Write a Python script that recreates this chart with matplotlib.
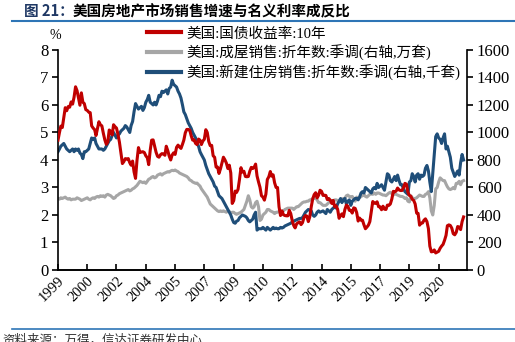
import pandas as pd
import matplotlib.pyplot as plt
from matplotlib.lines import Line2D

# monthly observations, Jan 1999 - Feb 2022
months = pd.date_range("1999-01-01", "2022-02-01", freq="MS")

# US 10Y treasury yield, %
yield_10y = [
    4.72, 5.00, 5.23, 5.18, 5.54, 5.90, 5.79, 5.94, 5.92, 6.11, 6.03, 6.28,
    6.66, 6.52, 6.26, 5.99, 6.44, 6.10, 6.05, 5.83, 5.80, 5.74, 5.72, 5.24,
    5.16, 5.10, 4.89, 5.14, 5.39, 5.28, 5.24, 4.97, 4.73, 4.57, 4.65, 5.09,
    5.04, 4.91, 5.28, 5.21, 5.16, 4.93, 4.65, 4.26, 3.87, 3.94, 4.05, 4.03,
    4.05, 3.90, 3.81, 3.96, 3.57, 3.33, 3.98, 4.45, 4.27, 4.29, 4.30, 4.27,
    4.15, 4.08, 3.83, 4.35, 4.72, 4.73, 4.50, 4.28, 4.13, 4.10, 4.19, 4.23,
    4.22, 4.17, 4.50, 4.34, 4.14, 4.00, 4.18, 4.26, 4.20, 4.46, 4.54, 4.47,
    4.42, 4.57, 4.72, 4.99, 5.11, 5.11, 5.09, 4.88, 4.72, 4.73, 4.60, 4.56,
    4.76, 4.72, 4.56, 4.69, 4.75, 5.10, 5.00, 4.67, 4.52, 4.53, 4.15, 4.10,
    3.74, 3.74, 3.51, 3.68, 3.88, 4.10, 4.01, 3.89, 3.69, 3.81, 3.53, 2.42,
    2.52, 2.87, 2.82, 2.93, 3.29, 3.72, 3.56, 3.59, 3.40, 3.39, 3.40, 3.59,
    3.73, 3.69, 3.73, 3.85, 3.42, 3.20, 3.01, 2.70, 2.65, 2.54, 2.76, 3.29,
    3.39, 3.58, 3.41, 3.46, 3.17, 3.00, 3.00, 2.30, 1.98, 2.15, 2.01, 1.98,
    1.97, 1.97, 2.17, 2.05, 1.80, 1.62, 1.53, 1.68, 1.72, 1.75, 1.65, 1.72,
    1.91, 1.98, 1.96, 1.76, 1.93, 2.30, 2.58, 2.74, 2.81, 2.62, 2.72, 2.90,
    2.86, 2.71, 2.72, 2.71, 2.56, 2.60, 2.54, 2.42, 2.53, 2.30, 2.33, 2.21,
    1.88, 1.98, 2.04, 1.94, 2.20, 2.36, 2.32, 2.17, 2.17, 2.07, 2.26, 2.24,
    2.09, 1.78, 1.89, 1.81, 1.81, 1.64, 1.50, 1.56, 1.63, 1.76, 2.14, 2.49,
    2.43, 2.42, 2.48, 2.30, 2.30, 2.19, 2.32, 2.21, 2.20, 2.36, 2.35, 2.40,
    2.58, 2.86, 2.84, 2.87, 2.98, 2.91, 2.89, 2.89, 3.00, 3.15, 3.12, 2.83,
    2.71, 2.68, 2.57, 2.53, 2.40, 2.07, 2.06, 1.63, 1.70, 1.71, 1.81, 1.86,
    1.76, 1.50, 0.87, 0.66, 0.67, 0.73, 0.62, 0.65, 0.68, 0.79, 0.87, 0.93,
    1.08, 1.26, 1.61, 1.64, 1.62, 1.52, 1.32, 1.28, 1.37, 1.58, 1.56, 1.47,
    1.76, 1.93,
]

# existing home sales, SAAR, 10k units
existing_sales = [
    520, 515, 525, 520, 525, 530, 520, 515, 520, 510, 515, 515,
    515, 525, 520, 515, 505, 510, 515, 520, 525, 515, 510, 520,
    525, 520, 530, 535, 530, 540, 535, 540, 530, 545, 550, 545,
    540, 530, 520, 525, 540, 545, 555, 560, 565, 570, 575, 580,
    585, 575, 580, 590, 595, 605, 615, 630, 645, 640, 635, 640,
    630, 645, 660, 665, 675, 680, 670, 675, 690, 695, 700, 690,
    700, 705, 710, 715, 712, 720, 725, 722, 727, 720, 715, 705,
    700, 695, 690, 685, 680, 670, 655, 650, 640, 635, 630, 632,
    620, 610, 590, 575, 560, 545, 530, 505, 480, 470, 460, 450,
    440, 430, 425, 430, 425, 430, 425, 420, 430, 425, 415, 420,
    420, 410, 405, 410, 415, 420, 430, 440, 470, 500, 540, 510,
    460, 450, 460, 490, 500, 460, 360, 370, 400, 410, 420, 440,
    440, 430, 425, 420, 410, 420, 420, 425, 425, 425, 430, 440,
    445, 450, 450, 450, 450, 440, 450, 460, 460, 470, 480, 490,
    495, 495, 500, 500, 510, 510, 520, 520, 520, 510, 490, 490,
    480, 470, 470, 470, 480, 490, 500, 505, 500, 510, 510, 505,
    500, 500, 515, 520, 520, 540, 545, 535, 530, 535, 520, 500,
    530, 515, 525, 535, 540, 550, 535, 530, 540, 550, 555, 550,
    560, 550, 560, 560, 555, 550, 545, 545, 540, 550, 560, 565,
    555, 545, 555, 550, 545, 540, 535, 535, 530, 520, 525, 500,
    495, 540, 525, 520, 520, 525, 535, 545, 540, 535, 535, 550,
    555, 570, 525, 430, 400, 470, 590, 600, 640, 670, 660, 650,
    650, 625, 605, 590, 585, 590, 600, 590, 630, 630, 645, 620,
    645, 650,
]

# new single-family home sales, SAAR, thousand units
new_sales = [
    860, 880, 900, 910, 920, 900, 880, 870, 860, 870, 880, 860,
    880, 870, 880, 850, 840, 810, 860, 860, 870, 880, 920, 960,
    950, 960, 920, 900, 880, 880, 880, 870, 880, 900, 920, 940,
    950, 980, 1000, 980, 960, 980, 990, 1010, 1020, 1030, 1050, 1040,
    1020, 1000, 1050, 1080, 1150, 1210, 1190, 1170, 1180, 1190, 1160, 1180,
    1220, 1240, 1270, 1220, 1210, 1200, 1220, 1200, 1230, 1270, 1260, 1300,
    1290, 1300, 1310, 1280, 1320, 1330, 1380, 1350, 1340, 1330, 1300, 1280,
    1250, 1200, 1150, 1130, 1100, 1070, 1050, 1030, 1000, 980, 960, 920,
    900, 860, 840, 820, 800, 760, 730, 700, 680, 660, 640, 610,
    600, 570, 540, 530, 520, 500, 480, 460, 440, 420, 400, 370,
    345, 340, 355, 360, 380, 390, 400, 395, 390, 380, 360, 350,
    360, 370, 400, 420, 290, 300, 300, 300, 310, 300, 290, 310,
    300, 290, 300, 310, 300, 305, 300, 300, 310, 305, 310, 320,
    325, 330, 335, 340, 350, 355, 360, 365, 370, 375, 375, 380,
    400, 420, 430, 440, 435, 430, 400, 390, 400, 420, 430, 420,
    425, 430, 420, 410, 440, 430, 420, 440, 450, 460, 450, 480,
    500, 520, 490, 510, 520, 480, 500, 510, 470, 500, 510, 520,
    520, 510, 530, 560, 570, 560, 600, 590, 580, 570, 560, 590,
    600, 590, 630, 600, 610, 620, 600, 580, 640, 700, 690, 650,
    640, 660, 680, 650, 690, 650, 620, 620, 590, 570, 560, 550,
    640, 650, 700, 680, 640, 690, 700, 660, 690, 680, 690, 740,
    760, 720, 640, 570, 700, 830, 970, 990, 960, 950, 920, 960,
    990, 880, 900, 860, 820, 740, 710, 680, 700, 720, 690, 780,
    840, 800,
]

labels = [
    "美国:国债收益率:10年",
    "美国:成屋销售:折年数:季调(右轴,万套)",
    "美国:新建住房销售:折年数:季调(右轴,千套)",
]

RED = "#c00000"
GREY = "#a6a6a6"
BLUE = "#1f4e79"
NAVY = "#1f3864"

plt.rcParams["font.family"] = ["Liberation Serif", "Noto Sans CJK SC", "DejaVu Sans"]
plt.rcParams["axes.linewidth"] = 1.2

fig = plt.figure(figsize=(5.15, 3.42), dpi=100)
ax = fig.add_axes([0.1126, 0.2105, 0.7944, 0.6435])
ax2 = ax.twinx()

ax2.plot(months, existing_sales, color=GREY, lw=2.2, zorder=1)
ax2.plot(months, new_sales, color=BLUE, lw=2.2, zorder=2)
ax.plot(months, yield_10y, color=RED, lw=2.2, zorder=3)
ax.set_zorder(ax2.get_zorder() + 1)
ax.patch.set_visible(False)

ax.set_ylim(0, 8)
ax2.set_ylim(0, 1600)
ax.set_yticks(range(0, 9))
ax2.set_yticks(range(0, 1601, 200))
ax.set_xlim(pd.Timestamp("1999-01-01"), pd.Timestamp("2022-04-15"))

# a tick every 20 months, labelled by year
xticks = pd.date_range("1999-01-01", "2020-09-01", freq="20MS")
ax.set_xticks(xticks)
ax.set_xticklabels([d.strftime("%Y") for d in xticks], rotation=45,
                   ha="right", rotation_mode="anchor")

for a in (ax, ax2):
    a.spines["top"].set_visible(False)
    a.tick_params(axis="y", direction="out", length=4, width=1.2,
                  labelsize=12, pad=3)
ax.tick_params(axis="x", direction="in", length=4, width=1.2,
               labelsize=10.5, pad=3)
ax2.spines["left"].set_visible(False)
ax.spines["right"].set_visible(False)

fig.text(0.107, 0.885, "%", fontsize=10, ha="center")

handles = [Line2D([], [], color=c, lw=3) for c in (RED, GREY, BLUE)]
fig.legend(handles, labels, loc="upper left",
           bbox_to_anchor=(0.275, 0.938), frameon=False,
           fontsize=10.5, handlelength=2.3, handletextpad=0.4,
           labelspacing=0.28, borderaxespad=0)

# header and footer
fig.text(0.047, 0.968, "图 21：", fontsize=10.5, fontweight="bold",
         color=NAVY, va="center", family=["Noto Sans CJK SC"])
fig.text(0.14, 0.968, "美国房地产市场销售增速与名义利率成反比",
         fontsize=10.5, fontweight="bold", color="black", va="center",
         family=["Noto Sans CJK SC"])
fig.add_artist(Line2D([0.023, 1.0], [0.938, 0.938], color="#2e75b6", lw=1.5))
fig.add_artist(Line2D([0.023, 1.0], [0.038, 0.038], color="#2e75b6", lw=1.2))
fig.text(0.004, -0.012, "资料来源：万得，信达证券研发中心", fontsize=9,
         style="italic", color="#333333", va="bottom",
         family=["Noto Sans CJK SC"])

fig.savefig("out.png", dpi=100)
